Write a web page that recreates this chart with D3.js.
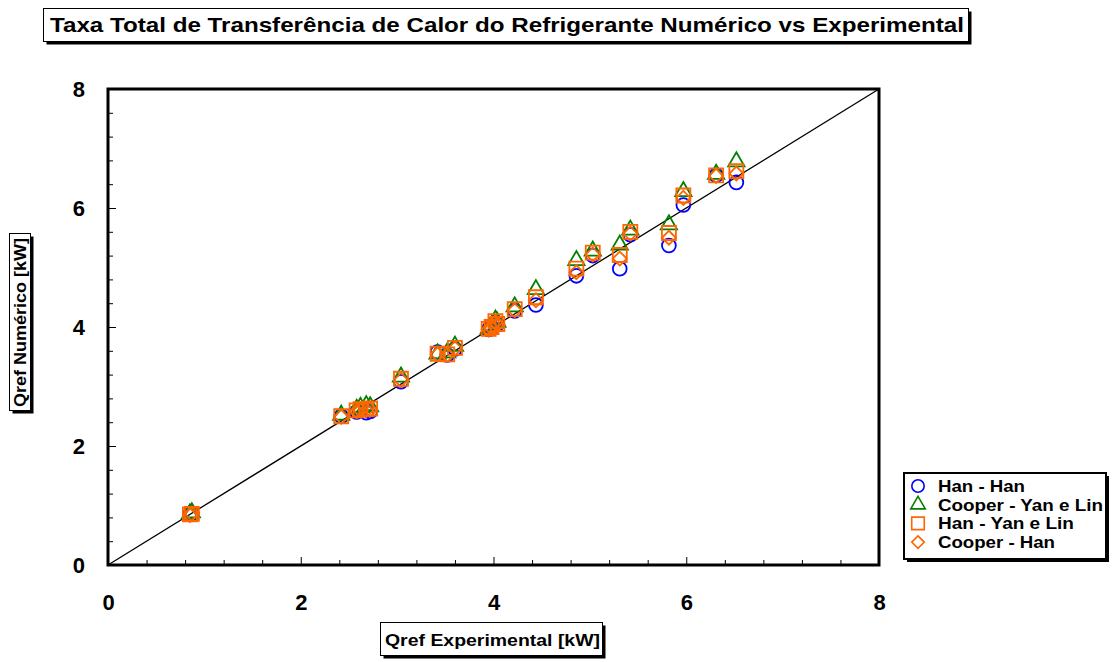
<!DOCTYPE html>
<html><head><meta charset="utf-8">
<script src="https://cdn.jsdelivr.net/npm/d3@7"></script>
<style>body{margin:0;background:#fff}svg{display:block;font-family:"Liberation Sans",Arial,sans-serif;font-weight:bold}</style>
</head><body>
<script>
const experimental = [0.85, 0.87, 2.42, 2.58, 2.62, 2.68, 2.72, 3.04, 3.42, 3.52, 3.60, 3.95, 3.98, 4.02, 4.04, 4.22, 4.44, 4.86, 5.03, 5.31, 5.42, 5.82, 5.97, 6.31, 6.52];
const hanHan       = [0.85, 0.87, 2.50, 2.57, 2.60, 2.56, 2.58, 3.08, 3.58, 3.53, 3.63, 3.96, 4.00, 4.08, 4.05, 4.27, 4.37, 4.86, 5.20, 4.98, 5.55, 5.37, 6.05, 6.55, 6.43];
const cooperYanLin = [0.86, 0.88, 2.52, 2.62, 2.65, 2.68, 2.66, 3.16, 3.55, 3.57, 3.68, 3.97, 4.02, 4.12, 4.08, 4.34, 4.63, 5.12, 5.28, 5.38, 5.63, 5.72, 6.28, 6.57, 6.78];
const hanYanLin    = [0.85, 0.86, 2.50, 2.60, 2.62, 2.62, 2.63, 3.13, 3.55, 3.54, 3.65, 3.97, 4.00, 4.10, 4.05, 4.30, 4.50, 4.98, 5.25, 5.21, 5.60, 5.58, 6.21, 6.55, 6.62];
const cooperHan    = [0.84, 0.86, 2.49, 2.58, 2.60, 2.60, 2.61, 3.11, 3.54, 3.53, 3.64, 3.96, 3.98, 4.08, 4.04, 4.28, 4.45, 4.92, 5.22, 5.15, 5.57, 5.50, 6.17, 6.54, 6.58];
const seriesNames = ["Han - Han", "Cooper - Yan e Lin", "Han - Yan e Lin", "Cooper - Han"];
const tickValues = [0, 2, 4, 6, 8];

const W = 1115, H = 662;
const svg = d3.select("body").append("svg").attr("width", W).attr("height", H);
const L = 108, R = 879, T = 89, B = 565;
const x = d3.scaleLinear().domain([0, 8]).range([L, R]);
const y = d3.scaleLinear().domain([0, 8]).range([B, T]);

const diamond = {draw(ctx, size) { const r = Math.sqrt(size) / 2; ctx.moveTo(0, -r); ctx.lineTo(r, 0); ctx.lineTo(0, r); ctx.lineTo(-r, 0); ctx.closePath(); }};

const series = [
  {name: seriesNames[0], vals: hanHan, color: "#0000ff", sym: d3.symbolCircle, size: 150, tl: 87},
  {name: seriesNames[1], vals: cooperYanLin, color: "#008000", sym: d3.symbolTriangle, size: 115, tl: 165},
  {name: seriesNames[2], vals: hanYanLin, color: "#ff6600", sym: d3.symbolSquare, size: 196, tl: 136},
  {name: seriesNames[3], vals: cooperHan, color: "#ff6600", sym: diamond, size: 196, tl: 117}
];

function shadowBox(x0, y0, w, h, sw) {
  svg.append("rect").attr("x", x0 + 3).attr("y", y0 + 3).attr("width", w).attr("height", h).attr("fill", "#000");
  svg.append("rect").attr("x", x0).attr("y", y0).attr("width", w).attr("height", h).attr("fill", "#fff").attr("stroke", "#000").attr("stroke-width", sw);
}

// Title
shadowBox(43.5, 8.5, 925, 33, 1);
svg.append("text").attr("x", 50).attr("y", 32).attr("font-size", 21)
  .attr("textLength", 914).attr("lengthAdjust", "spacingAndGlyphs")
  .text("Taxa Total de Transferência de Calor do Refrigerante Numérico vs Experimental");

// ticks inward
const minor = d3.range(0, 8.01, 0.4);
const isMajor = d => Math.abs(d / 2 - Math.round(d / 2)) < 1e-6;
const gx = svg.append("g").attr("transform", `translate(0,${B})`).call(d3.axisBottom(x).tickValues(minor).tickSize(-6).tickFormat(""));
gx.select(".domain").remove();
gx.selectAll(".tick line").attr("stroke-width", 1).attr("y2", d => isMajor(d) ? -8 : -5);
const gy = svg.append("g").attr("transform", `translate(${L},0)`).call(d3.axisLeft(y).tickValues(minor).tickSize(-6).tickFormat(""));
gy.select(".domain").remove();
gy.selectAll(".tick line").attr("stroke-width", 1).attr("x2", d => isMajor(d) ? 8 : 5);

// tick labels
const gxl = svg.append("g").attr("transform", `translate(0,${B + 45})`)
  .call(d3.axisBottom(x).tickValues(tickValues).tickSize(0).tickPadding(0).tickFormat(d3.format("d")));
gxl.select(".domain").remove();
gxl.selectAll("text").attr("font-size", 22).attr("font-weight", "bold").attr("font-family", "Liberation Sans, Arial").attr("fill", "#000").attr("dy", 0);
const gyl = svg.append("g").attr("transform", `translate(${L - 23},0)`)
  .call(d3.axisLeft(y).tickValues(tickValues).tickSize(0).tickPadding(0).tickFormat(d3.format("d")));
gyl.select(".domain").remove();
gyl.selectAll("text").attr("font-size", 22).attr("font-weight", "bold").attr("font-family", "Liberation Sans, Arial").attr("fill", "#000").attr("dy", "0.36em");

// diagonal
svg.append("line").attr("x1", x(0)).attr("y1", y(0)).attr("x2", x(8)).attr("y2", y(8)).attr("stroke", "#000").attr("stroke-width", 1.3);

// markers
series.forEach(s => {
  const sym = d3.symbol().type(s.sym).size(s.size);
  svg.append("g").selectAll("path").data(experimental.map((e, i) => [e, s.vals[i]])).join("path")
    .attr("d", sym)
    .attr("transform", d => `translate(${x(d[0])},${y(d[1])})`)
    .attr("fill", "none").attr("stroke", s.color).attr("stroke-width", 1.8);
});

// frame
svg.append("rect").attr("x", L).attr("y", T).attr("width", R - L).attr("height", B - T).attr("fill", "none").attr("stroke", "#000").attr("stroke-width", 3);

// axis titles
shadowBox(380.5, 622.5, 222, 33, 1);
svg.append("text").attr("x", 385).attr("y", 646).attr("font-size", 17)
  .attr("textLength", 215).attr("lengthAdjust", "spacingAndGlyphs").text("Qref Experimental [kW]");
shadowBox(9.5, 233.5, 21, 177, 1);
svg.append("text").attr("transform", "translate(26,407) rotate(-90)").attr("font-size", 16)
  .attr("textLength", 169).attr("lengthAdjust", "spacingAndGlyphs").text("Qref Numérico [kW]");

// legend
shadowBox(904, 473, 202, 86, 2);
series.forEach((s, i) => {
  const yy = 486 + i * 18.7;
  svg.append("path").attr("d", d3.symbol().type(s.sym).size(s.size * 0.8)).attr("transform", `translate(918,${yy})`)
    .attr("fill", "none").attr("stroke", s.color).attr("stroke-width", 1.6);
  svg.append("text").attr("x", 938).attr("y", yy + 6).attr("font-size", 16)
    .attr("textLength", s.tl).attr("lengthAdjust", "spacingAndGlyphs").text(s.name);
});
</script>
</body></html>
